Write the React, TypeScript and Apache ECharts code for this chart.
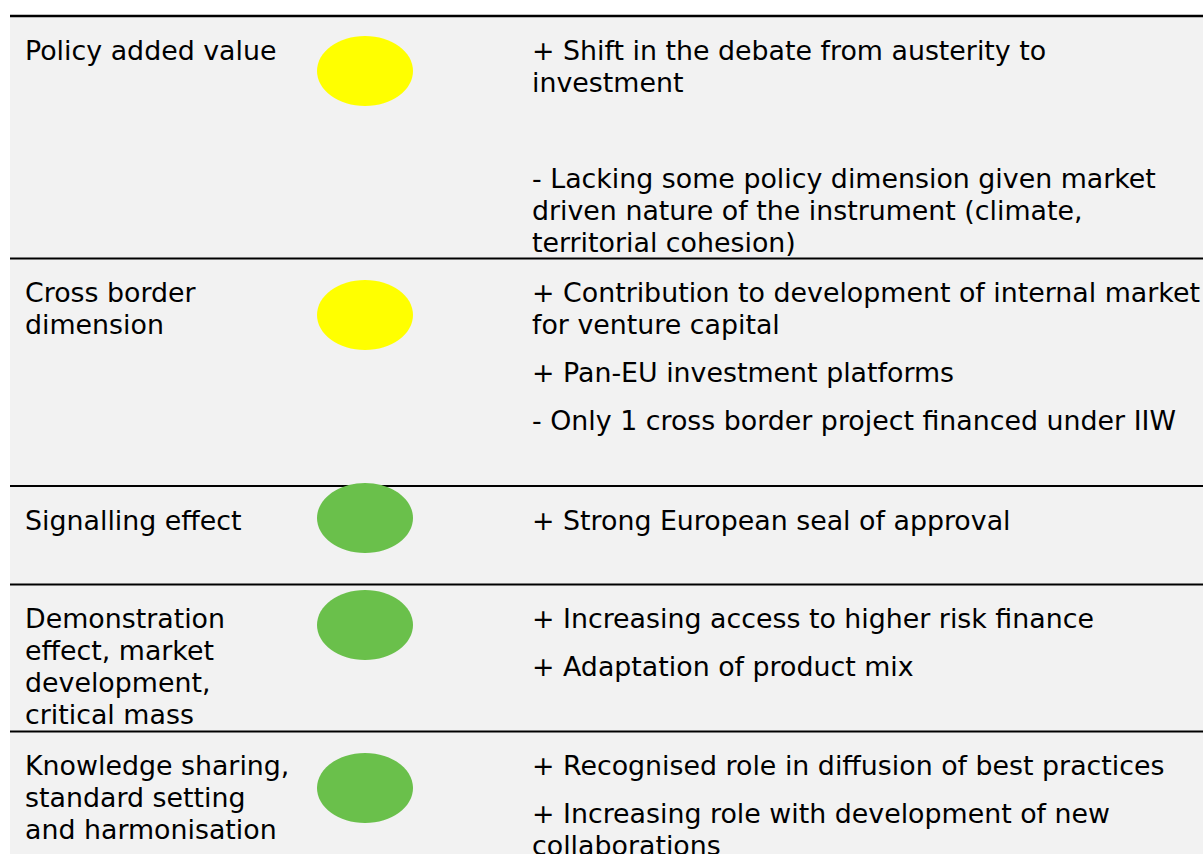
import React, { useEffect, useRef } from "react";
import * as echarts from "echarts";

// ---- data ----
const rowLabels: string[][] = [
  ["Policy added value"],
  ["Cross border", "dimension"],
  ["Signalling effect"],
  ["Demonstration", "effect, market", "development,", "critical mass"],
  ["Knowledge sharing,", "standard setting", "and harmonisation"],
];

const ratings: string[] = ["medium", "medium", "good", "good", "good"];

const rowComments: string[][][] = [
  [
    ["+ Shift in the debate from austerity to", "investment"],
    [""],
    [
      "- Lacking some policy dimension given market",
      "driven nature of the instrument (climate,",
      "territorial cohesion)",
    ],
  ],
  [
    ["+ Contribution to development of internal market", "for venture capital"],
    ["+ Pan-EU investment platforms"],
    ["- Only 1 cross border project financed under IIW"],
  ],
  [["+ Strong European seal of approval"]],
  [["+ Increasing access to higher risk finance"], ["+ Adaptation of product mix"]],
  [
    ["+ Recognised role in diffusion of best practices"],
    ["+ Increasing role with development of new", "collaborations"],
  ],
];

// ---- layout / style ----
const W = 1203;
const H = 854;
const ratingColors: Record<string, string> = { medium: "#ffff00", good: "#6ac04b" };
const rowTops = [16, 258.5, 486, 584.5, 731.5];
const circleCy = [71, 315, 518, 625, 788];
const circleCx = 365;
const circleRx = 48;
const circleRy = 35;
const labelX = 25;
const commentX = 532;
const firstOffset = 34.5;
const lineH = 32;
const paraGap = 16;
const textScaleX = 1.032;
const FONT = '"DejaVu Sans", Verdana, sans-serif';

function buildGraphic() {
  const els: any[] = [];
  els.push({
    type: "rect",
    shape: { x: 10, y: rowTops[0], width: W - 10, height: H - rowTops[0] },
    style: { fill: "#f2f2f2" },
  });
  const textStyle = (t: string) => ({
    text: t,
    fontFamily: FONT,
    fontSize: 26,
    fill: "#000000",
    align: "left",
    verticalAlign: "middle",
  });
  const textEl = (x: number, y: number, t: string) => ({
    type: "text",
    x,
    y,
    scaleX: textScaleX,
    style: textStyle(t),
  });
  rowLabels.forEach((lines, r) => {
    lines.forEach((t, i) => {
      els.push(textEl(labelX, rowTops[r] + firstOffset + i * lineH, t));
    });
    let y = rowTops[r] + firstOffset;
    rowComments[r].forEach((para) => {
      para.forEach((t) => {
        if (t) els.push(textEl(commentX, y, t));
        y += lineH;
      });
      y += paraGap;
    });
  });
  rowTops.forEach((y, i) => {
    els.push({
      type: "line",
      shape: { x1: 10, y1: y, x2: W, y2: y },
      style: { stroke: "#000000", lineWidth: i === 0 ? 2.5 : 2 },
    });
  });
  ratings.forEach((rt, r) => {
    els.push({
      type: "ellipse",
      shape: { cx: circleCx, cy: circleCy[r], rx: circleRx, ry: circleRy },
      style: { fill: ratingColors[rt] },
    });
  });
  return els;
}

export default function App() {
  const ref = useRef<HTMLDivElement>(null);
  useEffect(() => {
    if (!ref.current) return;
    const chart = echarts.init(ref.current, null, { renderer: "svg" });
    chart.setOption({
      animation: false,
      backgroundColor: "#ffffff",
      graphic: { elements: buildGraphic() },
    });
    return () => chart.dispose();
  }, []);
  return (
    <div
      ref={ref}
      style={{ position: "fixed", left: 0, top: 0, width: W, height: H }}
    />
  );
}
